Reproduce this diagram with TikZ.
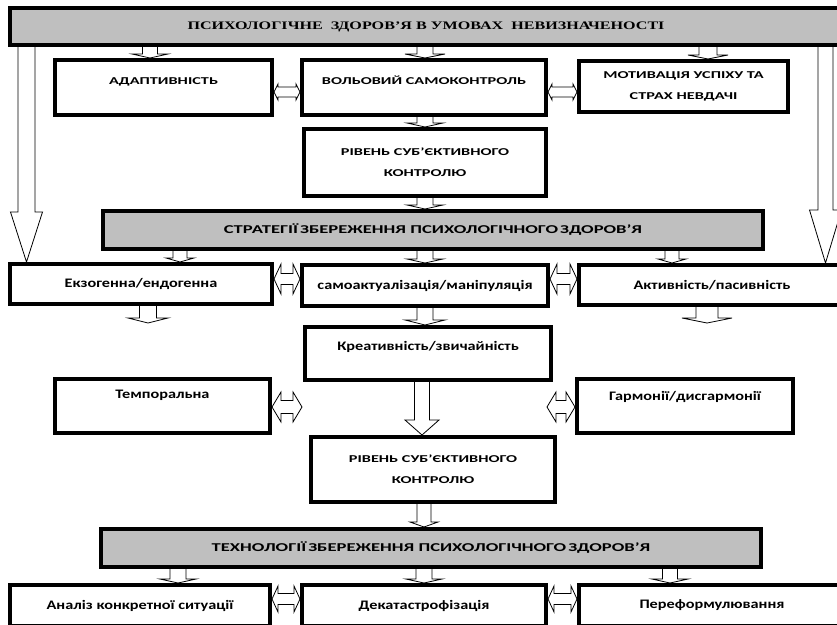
\documentclass[tikz,border=0pt]{standalone}
\usepackage{fontspec}
\usepackage{xcolor}
\usepackage{tikz}
\usetikzlibrary{calc}
\setmainfont{Liberation Serif}
\newfontfamily\titlefont[FakeStretch=1.4]{Liberation Serif}
\newfontfamily\capsfont[FakeStretch=1.55]{Carlito}
\newfontfamily\lowfont[FakeStretch=1.25]{Carlito}
\definecolor{bar-gray}{HTML}{BFBFBF}

% hollow block arrow pointing down: x, from, to, half shaft, half head, head length
\newcommand{\hollowdown}[6]{%
  \draw[hollow] let \p1=#2, \p2=#3, \p3=(#1,0) in
    (\x3-#4pt,\y1) -- (\x3-#4pt,\y2+#6pt) -- (\x3-#5pt,\y2+#6pt) -- (\x3,\y2)
    -- (\x3+#5pt,\y2+#6pt) -- (\x3+#4pt,\y2+#6pt) -- (\x3+#4pt,\y1);}
% hollow double block arrow: y, left, right, half shaft, half head, head length
\newcommand{\hollowboth}[6]{%
  \draw[hollow] let \p1=#2, \p2=#3, \p3=(0,#1) in
    (\x1,\y3) -- (\x1+#6pt,\y3+#5pt) -- (\x1+#6pt,\y3+#4pt) -- (\x2-#6pt,\y3+#4pt)
    -- (\x2-#6pt,\y3+#5pt) -- (\x2,\y3) -- (\x2-#6pt,\y3-#5pt) -- (\x2-#6pt,\y3-#4pt)
    -- (\x1+#6pt,\y3-#4pt) -- (\x1+#6pt,\y3-#5pt) -- cycle;}

\tikzset{
  bar/.style={draw, line width=4pt, fill=bar-gray, inner sep=0pt,
    font=\capsfont\bfseries\fontsize{12}{14}\selectfont},
  capsbox/.style={draw, line width=4pt, fill=white, inner sep=0pt, align=center,
    font=\capsfont\bfseries\fontsize{10.5}{21}\selectfont},
  lowbox/.style={draw, line width=4pt, fill=white, inner sep=0pt, align=center,
    font=\lowfont\bfseries\fontsize{13}{16}\selectfont},
  lifted/.style={text height=7pt, text depth=#1},
  hollow/.style={draw, fill=white, line width=0.8pt},
}

\begin{document}
\begin{tikzpicture}[x=1pt, y=-1pt]
    \useasboundingbox (0,0) rectangle (837,624);
    \clip (0,0) rectangle (837,624);
    \fill[white] (0,0) rectangle (837,624);

    % Main bar
    \node[bar, minimum width=832, minimum height=37,
      font=\titlefont\bfseries\fontsize{11.5}{13}\selectfont] (health) at (426,26.5)
      {ПСИХОЛОГІЧНЕ\ \ ЗДОРОВ’Я В УМОВАХ\ \ НЕВИЗНАЧЕНОСТІ};

    % First row
    \node[capsbox, lifted=14pt, minimum width=217, minimum height=55] (adapt) at (163.5,87.5) {АДАПТИВНІСТЬ};
    \node[capsbox, lifted=14pt, minimum width=244, minimum height=55] (will) at (424,87.5) {ВОЛЬОВИЙ САМОКОНТРОЛЬ};
    \node[capsbox, minimum width=209, minimum height=51] (motive) at (683.5,86.5) {МОТИВАЦІЯ УСПІХУ ТА\\СТРАХ НЕВДАЧІ};
    \node[capsbox, minimum width=242, minimum height=67] (level1) at (425,162.5) {РІВЕНЬ СУБ’ЄКТИВНОГО\\КОНТРОЛЮ};

    % Strategies
    \node[bar, minimum width=660, minimum height=38] (strat) at (433,230)
      {СТРАТЕГІЇ\,ЗБЕРЕЖЕННЯ ПСИХОЛОГІЧНОГО\,ЗДОРОВ’Я};
    \node[lowbox, minimum width=262, minimum height=40] (exo) at (141,284) {Екзогенна/ендогенна};
    \node[lowbox, minimum width=246, minimum height=41] (selfact) at (425,285.5) {самоактуалізація/маніпуляція};
    \node[lowbox, minimum width=266, minimum height=40] (activ) at (712,285) {Активність/пасивність};
    \node[lowbox, lifted=14pt, minimum width=246, minimum height=53] (creativ) at (428,353.5) {Креативність/звичайність};
    \node[lowbox, lifted=22pt, minimum width=215, minimum height=54] (temporal) at (162.5,406) {Темпоральна};
    \node[lowbox, lifted=18pt, minimum width=216, minimum height=54] (harmony) at (685,406) {Гармонії/дисгармонії};
    \node[capsbox, minimum width=244, minimum height=65] (level2) at (433,469.5) {РІВЕНЬ СУБ’ЄКТИВНОГО\\КОНТРОЛЮ};

    % Technologies
    \node[bar, minimum width=660, minimum height=38] (tech) at (431,548)
      {ТЕХНОЛОГІЇ\,ЗБЕРЕЖЕННЯ ПСИХОЛОГІЧНОГО\,ЗДОРОВ’Я};
    \node[lowbox, minimum width=260, minimum height=41] (analysis) at (140,605.5) {Аналіз\ конкретної\ ситуації};
    \node[lowbox, minimum width=244, minimum height=41] (decat) at (424,605.5) {Декатастрофізація};
    \node[lowbox, minimum width=266, minimum height=41] (reform) at (712,605.5) {Переформулювання};

    % Free ends
    \coordinate (exo-end) at (148,323);
    \coordinate (activ-end) at (707,323);
    \coordinate (temp-end) at (302,407);
    \coordinate (harm-end) at (547,407);

    % Down arrows
    \hollowdown{150}{(health.south)}{(adapt.north)}{7.5}{18}{4}
    \hollowdown{425}{(health.south)}{(will.north)}{8}{20}{4}
    \hollowdown{708}{(health.south)}{(motive.north)}{9}{20}{4}
    \hollowdown{26.5}{(health.south)}{(exo.north)}{8.5}{16}{50}
    \hollowdown{825.5}{(health.south)}{(activ.north)}{7.5}{16}{53}
    \hollowdown{425}{(will.south)}{(level1.north)}{8}{18}{4}
    \hollowdown{425}{(level1.south)}{(strat.north)}{8}{18}{4}
    \hollowdown{180}{(strat.south)}{(exo.north)}{7}{14}{4}
    \hollowdown{425}{(strat.south)}{(selfact.north)}{8}{18}{4}
    \hollowdown{672}{(strat.south)}{(activ.north)}{7}{14}{4}
    \hollowdown{148}{(exo.south)}{(exo-end)}{8.5}{20}{5}
    \hollowdown{425}{(selfact.south)}{(creativ.north)}{8}{20}{5}
    \hollowdown{707}{(activ.south)}{(activ-end)}{11}{25}{5}
    \hollowdown{422}{(creativ.south)}{(level2.north)}{7.5}{17}{15}
    \hollowdown{424}{(level2.south)}{(tech.north)}{7}{14}{5}
    \hollowdown{178}{(tech.south)}{(analysis.north)}{8}{18}{4}
    \hollowdown{424}{(tech.south)}{(decat.north)}{8}{18}{4}
    \hollowdown{670}{(tech.south)}{(reform.north)}{7.5}{18}{4}

    % Double arrows
    \hollowboth{92}{(adapt.east)}{(will.west)}{5}{8}{4}
    \hollowboth{92}{(will.east)}{(motive.west)}{5}{8}{4}
    \hollowboth{279}{(exo.east)}{(selfact.west)}{5.5}{15}{7}
    \hollowboth{279}{(selfact.east)}{(activ.west)}{5.5}{15}{7}
    \hollowboth{407}{(temporal.east)}{(temp-end)}{6.5}{15}{9}
    \hollowboth{407}{(harm-end)}{(harmony.west)}{6.5}{15}{9}
    \hollowboth{599}{(analysis.east)}{(decat.west)}{5.5}{13}{6}
    \hollowboth{599}{(decat.east)}{(reform.west)}{5.5}{13}{6}
\end{tikzpicture}
\end{document}
